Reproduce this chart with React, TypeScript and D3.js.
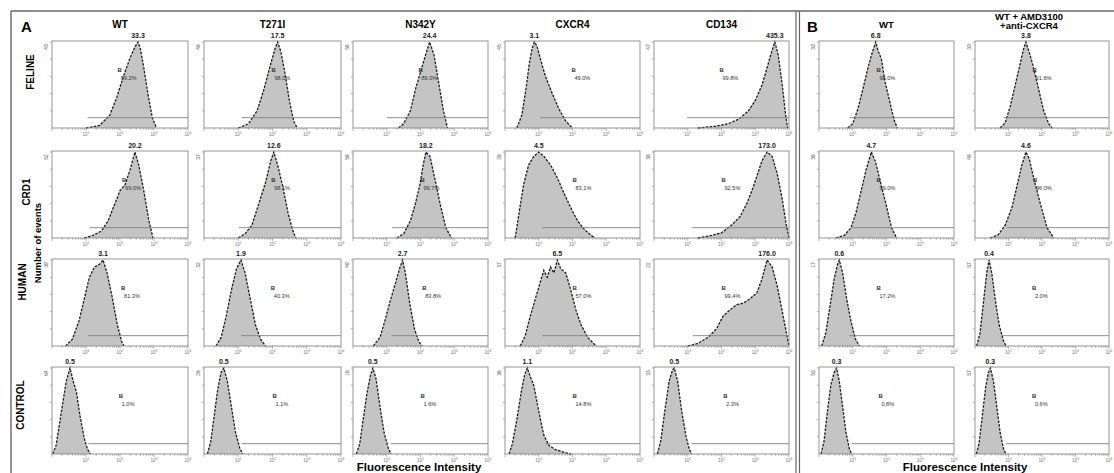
import React from 'react';
import * as d3 from 'd3';

// ---- data ----
const rowNames = ['FELINE', 'CRD1', 'HUMAN', 'CONTROL'];
const panelATitles = ['WT', 'T271I', 'N342Y', 'CXCR4', 'CD134'];
const panelBTitles = [['WT'], ['WT + AMD3100', '+anti-CXCR4']];

// value printed above each histogram peak (5 panel A columns + 2 panel B columns)
const peakValues = [
  ['33.3', '17.5', '24.4', '3.1', '435.3', '6.8', '3.8'],
  ['20.2', '12.6', '18.2', '4.5', '173.0', '4.7', '4.6'],
  ['3.1', '1.9', '2.7', '6.5', '176.0', '0.6', '0.4'],
  ['0.5', '0.5', '0.5', '1.1', '0.5', '0.3', '0.3'],
];

// % of events inside gate B
const gatePercents = [
  ['99.2%', '98.0%', '89.0%', '49.0%', '99.8%', '98.0%', '91.6%'],
  ['99.0%', '98.1%', '99.7%', '83.1%', '92.5%', '99.0%', '96.0%'],
  ['81.3%', '40.3%', '83.8%', '57.0%', '99.4%', '17.2%', '2.0%'],
  ['1.0%', '1.1%', '1.6%', '14.8%', '2.3%', '0.8%', '0.6%'],
];

// gate start (log decades, axis 10^0..10^4)
const gateStarts = [
  [1.05, 1.1, 1.0, 1.04, 0.98, 0.9, 0.85],
  [1.1, 1.02, 1.16, 1.1, 1.13, 0.98, 0.95],
  [1.06, 1.08, 1.14, 1.1, 1.15, 0.9, 0.8],
  [1.07, 1.1, 1.12, 1.2, 1.12, 0.97, 0.92],
];

// where the gate name sits (log decades)
const gateLabelX = [
  [1.93, 1.97, 1.94, 1.97, 1.94, 1.7, 1.72],
  [2.06, 1.96, 2.0, 2.0, 2.0, 1.7, 1.73],
  [2.03, 1.95, 2.05, 2.0, 2.0, 1.7, 1.7],
  [1.96, 2.0, 2.0, 2.0, 2.05, 1.76, 1.7],
];

// top label of each count axis
const yMaxLabels = [
  ['40', '48', '58', '45', '47', '30', '30'],
  ['52', '37', '56', '26', '38', '38', '48'],
  ['39', '32', '49', '37', '22', '17', '57'],
  ['64', '26', '16', '36', '33', '50', '57'],
];

type Pt = [number, number];

// histogram outlines: [log decade, count / max count]
const felineHist: Pt[][] = [
  [[1.0, 0], [1.4, 0.03], [1.7, 0.15], [1.9, 0.35], [2.1, 0.6], [2.3, 0.82], [2.45, 0.95], [2.53, 1.0], [2.6, 0.92], [2.7, 0.7], [2.82, 0.4], [2.95, 0.12], [3.07, 0]],
  [[1.0, 0], [1.3, 0.05], [1.55, 0.2], [1.75, 0.45], [1.95, 0.75], [2.08, 0.93], [2.15, 1.0], [2.25, 0.88], [2.38, 0.6], [2.5, 0.3], [2.62, 0.08], [2.72, 0]],
  [[1.35, 0], [1.5, 0.05], [1.7, 0.2], [1.85, 0.45], [2.0, 0.65], [2.15, 0.85], [2.27, 1.0], [2.4, 0.85], [2.55, 0.5], [2.68, 0.2], [2.8, 0]],
  [[0.35, 0], [0.5, 0.15], [0.62, 0.45], [0.72, 0.75], [0.8, 0.92], [0.87, 1.0], [0.95, 0.95], [1.05, 0.8], [1.2, 0.6], [1.4, 0.4], [1.6, 0.22], [1.8, 0.08], [2.0, 0]],
  [[1.3, 0], [1.8, 0.02], [2.2, 0.05], [2.5, 0.1], [2.8, 0.2], [3.0, 0.32], [3.2, 0.5], [3.35, 0.7], [3.48, 0.88], [3.58, 1.0], [3.68, 0.85], [3.8, 0.5], [3.9, 0.15], [3.96, 0]],
  [[0.85, 0], [1.0, 0.05], [1.15, 0.22], [1.3, 0.45], [1.45, 0.7], [1.58, 0.88], [1.68, 1.0], [1.75, 0.9], [1.85, 0.8], [1.95, 0.55], [2.1, 0.3], [2.22, 0.1], [2.32, 0]],
  [[0.75, 0], [0.9, 0.06], [1.05, 0.25], [1.2, 0.5], [1.35, 0.75], [1.45, 0.92], [1.52, 1.0], [1.62, 0.88], [1.75, 0.7], [1.9, 0.45], [2.05, 0.2], [2.2, 0.05], [2.3, 0]],
];

const crd1Hist: Pt[][] = [
  [[0.95, 0], [1.2, 0.03], [1.45, 0.08], [1.65, 0.2], [1.85, 0.4], [2.0, 0.55], [2.15, 0.62], [2.3, 0.8], [2.44, 1.0], [2.55, 0.85], [2.7, 0.55], [2.85, 0.2], [2.97, 0]],
  [[1.0, 0], [1.2, 0.05], [1.4, 0.15], [1.6, 0.4], [1.8, 0.65], [1.95, 0.9], [2.04, 1.0], [2.15, 0.85], [2.3, 0.6], [2.45, 0.3], [2.58, 0.1], [2.68, 0]],
  [[1.3, 0], [1.5, 0.05], [1.7, 0.2], [1.85, 0.4], [1.98, 0.62], [2.08, 0.85], [2.16, 1.0], [2.28, 0.95], [2.42, 0.7], [2.58, 0.4], [2.75, 0.12], [2.92, 0]],
  [[0.3, 0], [0.42, 0.3], [0.55, 0.62], [0.7, 0.85], [0.85, 0.95], [1.0, 1.0], [1.15, 0.95], [1.35, 0.85], [1.55, 0.7], [1.75, 0.52], [1.95, 0.35], [2.15, 0.2], [2.35, 0.1], [2.55, 0.03], [2.67, 0]],
  [[1.3, 0], [1.7, 0.03], [2.0, 0.06], [2.3, 0.15], [2.55, 0.25], [2.75, 0.4], [2.9, 0.55], [3.05, 0.72], [3.2, 0.9], [3.35, 1.0], [3.5, 0.95], [3.65, 0.75], [3.8, 0.45], [3.92, 0.15], [4.0, 0]],
  [[0.5, 0], [0.75, 0.03], [0.95, 0.12], [1.1, 0.3], [1.25, 0.55], [1.4, 0.8], [1.55, 1.0], [1.68, 0.88], [1.82, 0.65], [1.98, 0.4], [2.15, 0.12], [2.3, 0]],
  [[0.45, 0], [0.7, 0.04], [0.9, 0.15], [1.1, 0.35], [1.25, 0.6], [1.4, 0.85], [1.52, 1.0], [1.62, 0.92], [1.75, 0.7], [1.95, 0.4], [2.15, 0.12], [2.35, 0]],
];

const humanHist: Pt[][] = [
  [[0.4, 0], [0.6, 0.08], [0.8, 0.3], [0.95, 0.55], [1.1, 0.8], [1.25, 0.92], [1.4, 0.95], [1.5, 1.0], [1.62, 0.85], [1.78, 0.55], [1.92, 0.25], [2.05, 0.05], [2.12, 0]],
  [[0.35, 0], [0.5, 0.1], [0.65, 0.35], [0.8, 0.65], [0.95, 0.9], [1.08, 1.0], [1.2, 0.85], [1.35, 0.55], [1.5, 0.25], [1.65, 0.08], [1.8, 0]],
  [[0.6, 0], [0.8, 0.1], [0.95, 0.3], [1.1, 0.52], [1.25, 0.72], [1.38, 0.9], [1.47, 1.0], [1.55, 0.85], [1.68, 0.5], [1.82, 0.2], [1.95, 0.05], [2.05, 0]],
  [[0.45, 0], [0.6, 0.12], [0.75, 0.35], [0.9, 0.55], [1.05, 0.75], [1.15, 0.88], [1.25, 0.8], [1.35, 0.92], [1.45, 0.85], [1.55, 1.0], [1.65, 0.9], [1.8, 0.85], [1.95, 0.65], [2.1, 0.42], [2.25, 0.25], [2.45, 0.1], [2.7, 0]],
  [[1.0, 0], [1.3, 0.03], [1.6, 0.1], [1.85, 0.2], [2.05, 0.35], [2.25, 0.42], [2.45, 0.48], [2.65, 0.5], [2.85, 0.55], [3.05, 0.62], [3.2, 0.78], [3.35, 1.0], [3.5, 0.92], [3.65, 0.7], [3.8, 0.4], [3.95, 0.1], [4.0, 0]],
  [[0.08, 0], [0.2, 0.15], [0.32, 0.45], [0.45, 0.78], [0.55, 0.95], [0.6, 1.0], [0.7, 0.85], [0.82, 0.55], [0.95, 0.28], [1.08, 0.08], [1.2, 0]],
  [[0.05, 0], [0.15, 0.15], [0.25, 0.5], [0.35, 0.85], [0.42, 1.0], [0.5, 0.85], [0.6, 0.55], [0.72, 0.25], [0.85, 0.06], [0.93, 0]],
];

const controlHist: Pt[][] = [
  [[0.02, 0], [0.12, 0.1], [0.22, 0.35], [0.32, 0.6], [0.42, 0.85], [0.53, 1.0], [0.62, 0.85], [0.72, 0.72], [0.82, 0.45], [0.95, 0.18], [1.05, 0.05], [1.13, 0]],
  [[0.1, 0], [0.2, 0.15], [0.3, 0.45], [0.4, 0.75], [0.5, 0.95], [0.58, 1.0], [0.68, 0.85], [0.8, 0.55], [0.92, 0.25], [1.05, 0.06], [1.14, 0]],
  [[0.1, 0], [0.2, 0.12], [0.3, 0.4], [0.42, 0.72], [0.52, 0.92], [0.59, 1.0], [0.68, 0.88], [0.8, 0.55], [0.92, 0.25], [1.05, 0.06], [1.13, 0]],
  [[0.12, 0], [0.22, 0.12], [0.35, 0.4], [0.48, 0.72], [0.58, 0.92], [0.66, 1.0], [0.75, 0.9], [0.85, 0.8], [0.95, 0.6], [1.05, 0.4], [1.15, 0.22], [1.3, 0.1], [1.5, 0.05], [1.75, 0.02], [1.95, 0]],
  [[0.1, 0], [0.2, 0.15], [0.32, 0.5], [0.45, 0.85], [0.55, 0.98], [0.6, 1.0], [0.7, 0.85], [0.82, 0.5], [0.95, 0.2], [1.05, 0.05], [1.12, 0]],
  [[0.06, 0], [0.15, 0.15], [0.25, 0.5], [0.35, 0.8], [0.45, 0.95], [0.52, 1.0], [0.6, 0.85], [0.7, 0.55], [0.8, 0.25], [0.9, 0.06], [0.97, 0]],
  [[0.04, 0], [0.12, 0.12], [0.22, 0.45], [0.32, 0.78], [0.4, 0.95], [0.46, 1.0], [0.55, 0.85], [0.65, 0.55], [0.75, 0.25], [0.85, 0.06], [0.92, 0]],
];

const histRows = [felineHist, crd1Hist, humanHist, controlHist];
const decadeTicks = [1, 2, 3, 4];
const gateLevel = 0.12;

// ---- layout ----
const W = 1114;
const H = 473;
const rowTops = [41, 151, 259, 367];
const boxH = 87;
const colLefts = [52, 204, 353, 505, 654, 819, 975];
const colWidths = [136, 137, 135, 135, 135, 135, 134];
const rowLabelX = [34, 30, 26, 24];
const rowLabelY = [72, 192, 282, 405];
const font = '"Liberation Sans", Arial, Helvetica, sans-serif';

const minorTicks: number[] = [];
for (let d = 0; d < 4; d++) {
  for (let k = 1; k <= 9; k++) minorTicks.push(d + Math.log10(k));
}
minorTicks.push(4);

const Histogram = ({ r, c }: { r: number; c: number }) => {
  const left = colLefts[c];
  const w = colWidths[c];
  const top = rowTops[r];
  const bottom = top + boxH;
  const x = d3.scaleLinear().domain([0, 4]).range([left, left + w]);
  const y = d3.scaleLinear().domain([0, 1]).range([bottom, top + 1]);
  const pts = histRows[r][c];

  const area = d3.area<Pt>().x(d => x(d[0])).y0(y(0)).y1(d => y(d[1]));
  const line = d3.line<Pt>().x(d => x(d[0])).y(d => y(d[1]));
  const peak = pts.reduce((a, b) => (b[1] > a[1] ? b : a), pts[0]);
  const gx = x(gateLabelX[r][c]);
  const gy = y(0.65);

  return (
    <g>
      {/* axis ticks */}
      {minorTicks.map((t, i) => (
        <line key={'mt' + i} x1={x(t)} x2={x(t)} y1={bottom} y2={bottom + (Number.isInteger(t) ? 3 : 1.8)}
          stroke="#888" strokeWidth={0.6} />
      ))}
      {decadeTicks.map(t => (
        <text key={'tl' + t} x={x(t)} y={bottom + 7.5} textAnchor="middle" fontSize={4.6} fill="#777" fontFamily={font}>
          10<tspan dy={-1.8} fontSize={3.4}>{t}</tspan>
        </text>
      ))}
      {[0.2, 0.4, 0.6, 0.8, 1.0].map(v => (
        <line key={'yt' + v} x1={left - 2.2} x2={left} y1={y(v)} y2={y(v)} stroke="#888" strokeWidth={0.6} />
      ))}
      <text transform={`translate(${left - 4.5},${top + 6}) rotate(-90)`} textAnchor="middle" fontSize={4.8}
        fill="#555" fontFamily={font}>{yMaxLabels[r][c]}</text>

      {/* histogram */}
      <path d={area(pts) || ''} fill="#c4c4c4" />
      <path d={line(pts) || ''} fill="none" stroke="#1e1e1e" strokeWidth={1.3} strokeDasharray="2.6 1.3" />

      {/* gate */}
      <line x1={x(gateStarts[r][c])} x2={left + w} y1={y(gateLevel)} y2={y(gateLevel)} stroke="#808080" strokeWidth={0.9} />
      <text x={gx} y={gy} fontSize={6} fontWeight="bold" fill="#333" fontFamily={font}>B</text>
      <text x={gx + 3} y={gy + 8} fontSize={5.6} fill="#333" fontFamily={font}>{gatePercents[r][c]}</text>

      {/* frame */}
      <rect x={left} y={top} width={w} height={boxH} fill="none" stroke="#8a8a8a" strokeWidth={0.9} />

      {/* peak value */}
      <text x={x(peak[0])} y={top - 3.5} textAnchor="middle" fontSize={7} fontWeight="bold" fill="#222"
        fontFamily={font}>{peakValues[r][c]}</text>
    </g>
  );
};

export default function App() {
  const cells: { r: number; c: number }[] = [];
  rowNames.forEach((_, r) => colLefts.forEach((__, c) => cells.push({ r, c })));

  return (
    <svg width={W} height={H} viewBox={`0 0 ${W} ${H}`}
      style={{ position: 'absolute', left: 0, top: 0, background: '#fff' }}>
      <rect x={0} y={0} width={W} height={H} fill="#fff" />

      {/* outer frame and A/B separator */}
      <line x1={11} x2={W} y1={11} y2={11} stroke="#666" strokeWidth={1.4} />
      <line x1={11} x2={11} y1={11} y2={H} stroke="#666" strokeWidth={1.4} />
      <line x1={796} x2={796} y1={11} y2={H} stroke="#666" strokeWidth={1.2} />
      <line x1={799.5} x2={799.5} y1={11} y2={H} stroke="#666" strokeWidth={1.2} />

      <text x={21} y={32} fontSize={15} fontWeight="bold" fontFamily={font}>A</text>
      <text x={807} y={32} fontSize={15} fontWeight="bold" fontFamily={font}>B</text>

      {panelATitles.map((t, c) => (
        <text key={t} x={colLefts[c] + colWidths[c] / 2} y={28} textAnchor="middle" fontSize={10}
          fontWeight="bold" fontFamily={font}>{t}</text>
      ))}
      {panelBTitles.map((lines, i) => {
        const c = 5 + i;
        const cx = colLefts[c] + colWidths[c] / 2 - (i === 1 ? 13 : 0);
        return lines.map((t, j) => (
          <text key={t} x={cx} y={lines.length === 1 ? 28 : 20 + j * 9} textAnchor="middle" fontSize={9.5}
            fontWeight="bold" fontFamily={font}>{t}</text>
        ));
      })}

      {rowNames.map((n, r) => (
        <text key={n} transform={`translate(${rowLabelX[r]},${rowLabelY[r]}) rotate(-90)`} textAnchor="middle"
          fontSize={10} fontWeight="bold" fontFamily={font}>{n}</text>
      ))}
      <text transform="translate(41,243) rotate(-90)" textAnchor="middle" fontSize={9.5} fontWeight="bold"
        fontFamily={font}>Number of events</text>

      {cells.map(({ r, c }) => <Histogram key={`${r}-${c}`} r={r} c={c} />)}

      <text x={419} y={471} textAnchor="middle" fontSize={11.5} fontWeight="bold" fontFamily={font}>Fluorescence Intensity</text>
      <text x={965} y={471} textAnchor="middle" fontSize={11.5} fontWeight="bold" fontFamily={font}>Fluorescence Intensity</text>
    </svg>
  );
}
